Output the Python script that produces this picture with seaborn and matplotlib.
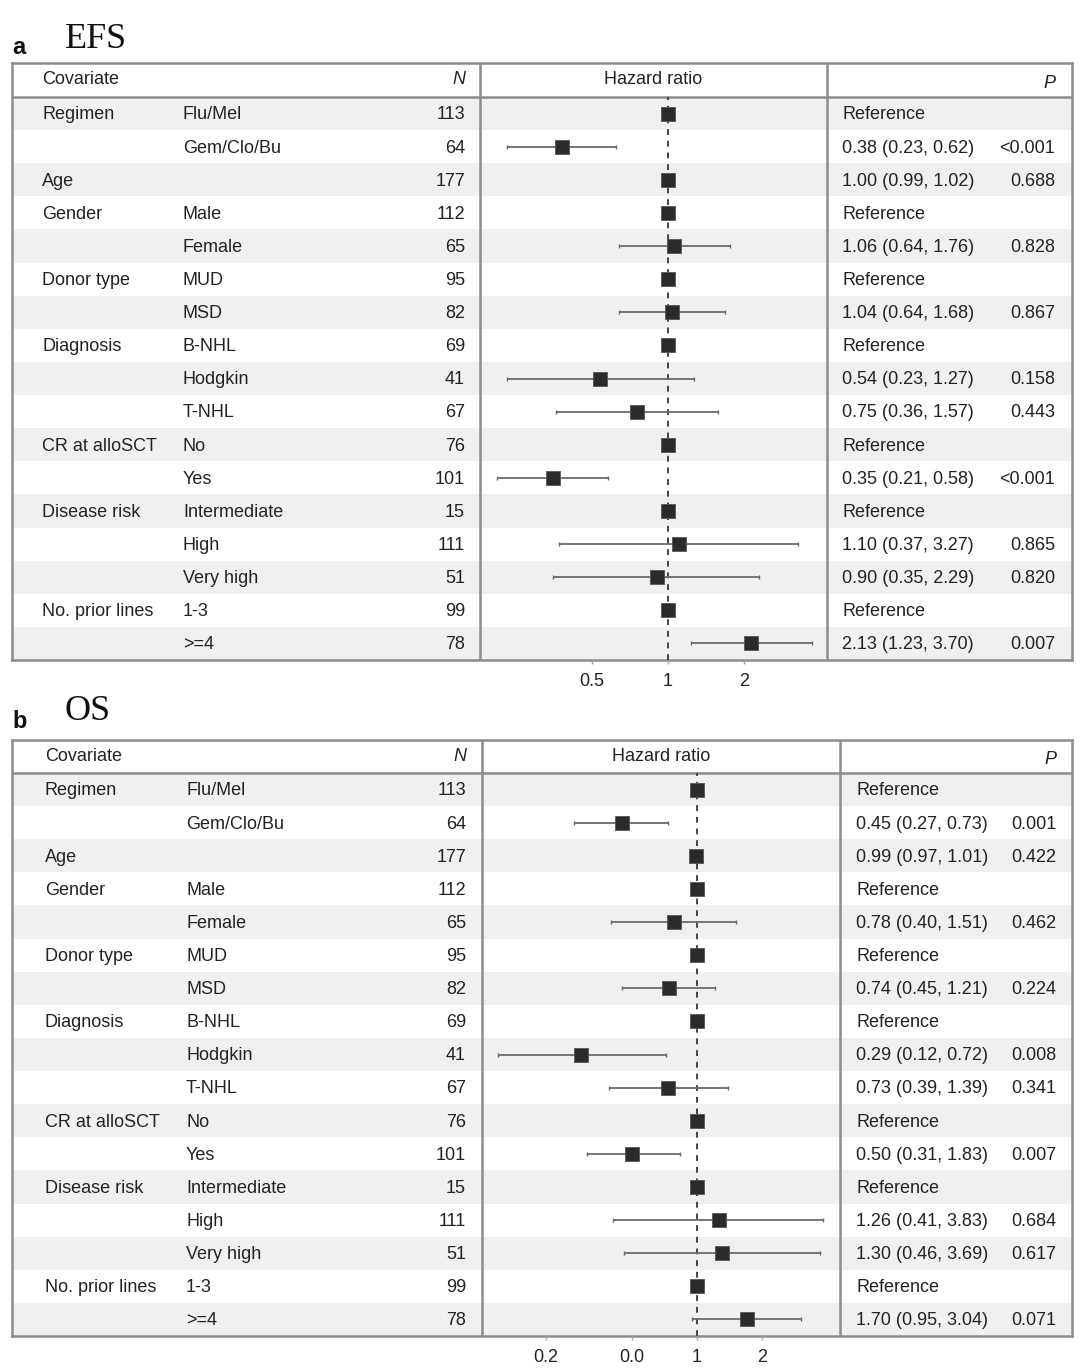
import numpy as np
import pandas as pd
import matplotlib
matplotlib.use("Agg")
import matplotlib.pyplot as plt
from matplotlib.ticker import NullLocator
import seaborn as sns

# rows shared by both panels
groups = ["Regimen", "", "Age", "Gender", "", "Donor type", "", "Diagnosis", "", "",
          "CR at alloSCT", "", "Disease risk", "", "", "No. prior lines", ""]
levels = ["Flu/Mel", "Gem/Clo/Bu", "", "Male", "Female", "MUD", "MSD", "B-NHL", "Hodgkin",
          "T-NHL", "No", "Yes", "Intermediate", "High", "Very high", "1-3", ">=4"]
n_pat = [113, 64, 177, 112, 65, 95, 82, 69, 41, 67, 76, 101, 15, 111, 51, 99, 78]

nan = np.nan

# panel a - EFS
efs_hr = [1, 0.38, 1.00, 1, 1.06, 1, 1.04, 1, 0.54, 0.75, 1, 0.35, 1, 1.10, 0.90, 1, 2.13]
efs_lo = [nan, 0.23, 0.99, nan, 0.64, nan, 0.64, nan, 0.23, 0.36, nan, 0.21, nan, 0.37, 0.35, nan, 1.23]
efs_hi = [nan, 0.62, 1.02, nan, 1.76, nan, 1.68, nan, 1.27, 1.57, nan, 0.58, nan, 3.27, 2.29, nan, 3.70]
efs_txt = ["Reference", "0.38 (0.23, 0.62)", "1.00 (0.99, 1.02)", "Reference", "1.06 (0.64, 1.76)",
           "Reference", "1.04 (0.64, 1.68)", "Reference", "0.54 (0.23, 1.27)", "0.75 (0.36, 1.57)",
           "Reference", "0.35 (0.21, 0.58)", "Reference", "1.10 (0.37, 3.27)", "0.90 (0.35, 2.29)",
           "Reference", "2.13 (1.23, 3.70)"]
efs_p = ["", "<0.001", "0.688", "", "0.828", "", "0.867", "", "0.158", "0.443", "", "<0.001",
         "", "0.865", "0.820", "", "0.007"]
efs_ticks = [0.5, 1, 2]
efs_ticklabels = ["0.5", "1", "2"]

# panel b - OS (upper CI of "Yes" as drawn in the plot)
os_hr = [1, 0.45, 0.99, 1, 0.78, 1, 0.74, 1, 0.29, 0.73, 1, 0.50, 1, 1.26, 1.30, 1, 1.70]
os_lo = [nan, 0.27, 0.97, nan, 0.40, nan, 0.45, nan, 0.12, 0.39, nan, 0.31, nan, 0.41, 0.46, nan, 0.95]
os_hi = [nan, 0.73, 1.01, nan, 1.51, nan, 1.21, nan, 0.72, 1.39, nan, 0.83, nan, 3.83, 3.69, nan, 3.04]
os_txt = ["Reference", "0.45 (0.27, 0.73)", "0.99 (0.97, 1.01)", "Reference", "0.78 (0.40, 1.51)",
          "Reference", "0.74 (0.45, 1.21)", "Reference", "0.29 (0.12, 0.72)", "0.73 (0.39, 1.39)",
          "Reference", "0.50 (0.31, 1.83)", "Reference", "1.26 (0.41, 3.83)", "1.30 (0.46, 3.69)",
          "Reference", "1.70 (0.95, 3.04)"]
os_p = ["", "0.001", "0.422", "", "0.462", "", "0.224", "", "0.008", "0.341", "", "0.007",
        "", "0.684", "0.617", "", "0.071"]
os_ticks = [0.2, 0.5, 1, 2]
os_ticklabels = ["0.2", "0.0", "1", "2"]

sns.set_theme(style="white")
plt.rcParams["font.family"] = ["Liberation Sans", "DejaVu Sans"]

W, H = 1080, 1370
TXT = "#222222"
LINE = "#8c8c8c"


def rect(x0, y0, x1, y1):
    return [x0 / W, 1 - y1 / H, (x1 - x0) / W, (y1 - y0) / H]


def panel(fig, letter, title, top, hdr, bottom, div1, div2, xs, xlim,
          hr, lo, hi, txt, pv, ticks, ticklabels, lab_y, title_y):
    nrow = len(levels)
    row_h = (bottom - hdr) / nrow
    hdr_u = (hdr - top) / row_h

    # table background
    tab = fig.add_axes(rect(12, top, 1072, bottom))
    tab.set_xlim(12, 1072)
    tab.set_ylim(nrow - 0.5, -0.5 - hdr_u)
    tab.set_xticks([])
    tab.set_yticks([])
    for s in tab.spines.values():
        s.set_color(LINE)
        s.set_linewidth(1.8)
    for i in range(0, nrow, 2):
        tab.axhspan(i - 0.5, i + 0.5, color="#f0f0f0", lw=0, zorder=0)
    tab.axhline(-0.5, color=LINE, lw=1.8)
    tab.axvline(div1, color=LINE, lw=1.8)
    tab.axvline(div2, color=LINE, lw=1.8)

    hy = -0.5 - hdr_u / 2
    tab.text(xs[0], hy, "Covariate", ha="left", va="center", fontsize=13, color=TXT)
    tab.text(xs[2], hy, "N", ha="right", va="center", fontsize=13, color=TXT, style="italic")
    tab.text((div1 + div2) / 2, hy, "Hazard ratio", ha="center", va="center", fontsize=13, color=TXT)
    tab.text(xs[4], hy + 0.1, "P", ha="right", va="center", fontsize=13, color=TXT, style="italic")
    for i in range(nrow):
        tab.text(xs[0], i + 0.04, groups[i], ha="left", va="center", fontsize=13, color=TXT)
        tab.text(xs[1], i + 0.04, levels[i], ha="left", va="center", fontsize=13, color=TXT)
        tab.text(xs[2], i + 0.04, str(n_pat[i]), ha="right", va="center", fontsize=13, color=TXT)
        tab.text(xs[3], i + 0.04, txt[i], ha="left", va="center", fontsize=13, color=TXT)
        tab.text(xs[4], i + 0.04, pv[i], ha="right", va="center", fontsize=13, color=TXT)

    # forest column
    df = pd.DataFrame({"row": np.arange(nrow), "hr": hr, "lo": lo, "hi": hi})
    fx = fig.add_axes(rect(div1, hdr, div2, bottom))
    fx.patch.set_visible(False)
    ci = df.dropna()
    fx.hlines(ci["row"], ci["lo"], ci["hi"], color="#6a6a6a", lw=1.3, zorder=2)
    fx.plot(ci["lo"], ci["row"], ls="none", marker="|", ms=3, color="#6a6a6a", zorder=2)
    fx.plot(ci["hi"], ci["row"], ls="none", marker="|", ms=3, color="#6a6a6a", zorder=2)
    fx.axvline(1, color="#444444", lw=1.4, ls=(0, (3, 3)), zorder=1)
    sns.scatterplot(data=df, x="hr", y="row", marker="s", s=95, color="#2b2b2b",
                    edgecolor="#555555", linewidth=0.6, ax=fx, zorder=4, legend=False)
    fx.set_xscale("log", base=2)
    fx.set_xlim(*xlim)
    fx.set_ylim(nrow - 0.5, -0.5)
    fx.set_xticks(ticks)
    fx.set_xticklabels(ticklabels)
    fx.xaxis.set_minor_locator(NullLocator())
    fx.set_yticks([])
    fx.set_xlabel("")
    fx.set_ylabel("")
    for s in fx.spines.values():
        s.set_visible(False)
    fx.tick_params(axis="x", bottom=True, length=3, width=1, color="#aaaaaa",
                   pad=6, labelsize=13, labelcolor=TXT)

    fig.text(12 / W, 1 - lab_y / H, letter, fontsize=17, fontweight="bold",
             color="#111111", ha="left", va="center")
    fig.text(65 / W, 1 - title_y / H, title, fontsize=26, color="#111111",
             family="Liberation Serif", ha="left", va="center")


fig = plt.figure(figsize=(10.8, 13.7), dpi=100)
panel(fig, "a", "EFS", 63, 97, 660, 480, 827, [42, 183, 465, 842, 1055], (0.180, 4.26),
      efs_hr, efs_lo, efs_hi, efs_txt, efs_p, efs_ticks, efs_ticklabels, 47, 39)
panel(fig, "b", "OS", 740, 773, 1336, 482, 840, [45, 186, 466, 856, 1056], (0.101, 4.59),
      os_hr, os_lo, os_hi, os_txt, os_p, os_ticks, os_ticklabels, 721, 712)

fig.savefig("out.png", dpi=100)
